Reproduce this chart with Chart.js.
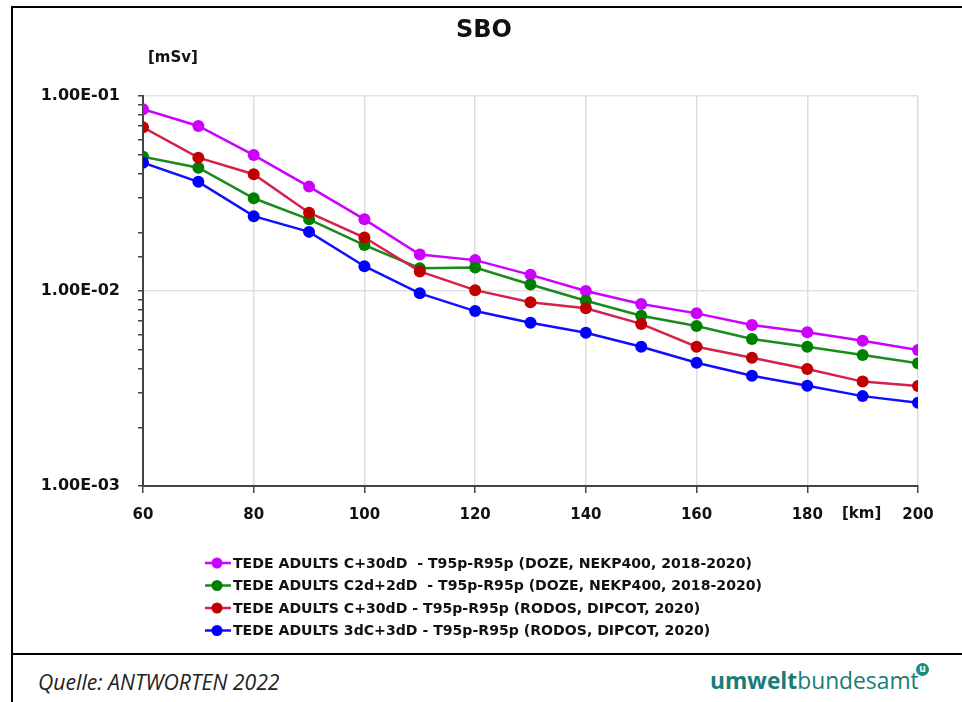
<!DOCTYPE html>
<html>
<head>
<meta charset="utf-8">
<script src="https://cdn.jsdelivr.net/npm/chart.js@4.4.1/dist/chart.umd.min.js"></script>
<style>
  html, body { margin: 0; padding: 0; background: #fff; }
  #page { position: relative; width: 962px; height: 702px; overflow: hidden; }
  #frame { position: absolute; left: 11px; top: 6px; width: 960px; height: 700px; border-top: 2px solid #000; border-left: 2px solid #000; }
  #sep { position: absolute; left: 11px; top: 653px; width: 951px; height: 2px; background: #000; }
  #wrap { position: absolute; left: 0; top: 0; width: 962px; height: 652px; }
  #source { position: absolute; left: 38px; top: 667px; font: italic 21.2px "Open Sans", sans-serif; color: #222; }
  #logo { position: absolute; left: 710px; top: 665px; font: 22.8px "Open Sans", sans-serif; color: #1a7c78; white-space: nowrap; }
  #logo b { font-weight: 700; }
  #logo .dot { position: absolute; left: 206px; top: -2px; width: 13px; height: 13px; border-radius: 50%; background: #1a8a84; color: #fff; font: bold 10px "Open Sans", sans-serif; line-height: 11px; text-align: center; }
</style>
</head>
<body>
<div id="page">
  <div id="frame"></div>
  <div id="wrap"><canvas id="cnv"></canvas></div>
  <div id="sep"></div>
  <div id="source">Quelle: ANTWORTEN 2022</div>
  <div id="logo"><b>umwelt</b>bundesamt<span class="dot">u</span></div>
</div>
<script>
// ---- data (mSv vs distance in km) ----
const distances = [60, 70, 80, 90, 100, 110, 120, 130, 140, 150, 160, 170, 180, 190, 200];
const seriesLabels = [
  'TEDE ADULTS C+30dD  - T95p-R95p (DOZE, NEKP400, 2018-2020)',
  'TEDE ADULTS C2d+2dD  - T95p-R95p (DOZE, NEKP400, 2018-2020)',
  'TEDE ADULTS C+30dD - T95p-R95p (RODOS, DIPCOT, 2020)',
  'TEDE ADULTS 3dC+3dD - T95p-R95p (RODOS, DIPCOT, 2020)'
];
const dozeC30 = [0.0855, 0.0702, 0.0498, 0.0343, 0.0233, 0.0154, 0.0144, 0.0121, 0.0100, 0.00858, 0.00768, 0.00669, 0.00614, 0.00556, 0.00498];
const dozeC2d = [0.0488, 0.0429, 0.0299, 0.0233, 0.0172, 0.0131, 0.0132, 0.0108, 0.00892, 0.00747, 0.00662, 0.00567, 0.00518, 0.00470, 0.00426];
const rodosC30 = [0.0691, 0.0483, 0.0397, 0.0252, 0.0188, 0.0126, 0.0101, 0.00875, 0.00815, 0.00678, 0.00518, 0.00455, 0.00398, 0.00343, 0.00326];
const rodos3dC = [0.0455, 0.0363, 0.0242, 0.0201, 0.0134, 0.00973, 0.00789, 0.00688, 0.00611, 0.00518, 0.00429, 0.00368, 0.00327, 0.00289, 0.00267];
const xTicks = [60, 80, 100, 120, 140, 160, 180, 200];
const yMajor = [0.1, 0.01, 0.001];

const lineColors   = ['#cc00ff', '#1a8a1a', '#d8204c', '#1010ff'];
const markerColors = ['#cc00ff', '#008000', '#c00000', '#0000ff'];
const allSeries = [dozeC30, dozeC2d, rodosC30, rodos3dC];

const FONT = '"DejaVu Sans", Verdana, sans-serif';

const datasets = allSeries.map((vals, i) => ({
  label: seriesLabels[i],
  data: vals.map((v, j) => ({ x: distances[j], y: v })),
  borderColor: lineColors[i],
  backgroundColor: markerColors[i],
  pointBackgroundColor: markerColors[i],
  pointBorderColor: markerColors[i],
  pointRadius: 6,
  pointBorderWidth: 0,
  borderWidth: 2.5,
  tension: 0,
  order: 4 - i          // later series on top, like the original
}));

const isMajor = v => Math.abs(Math.log10(v) - Math.round(Math.log10(v))) < 1e-9;
const sciLabel = v => {
  const e = Math.round(Math.log10(v));
  const s = e < 0 ? '-' : '+';
  return '1.00E' + s + String(Math.abs(e)).padStart(2, '0');
};

// ---- titles, unit labels and legend ----
const decorPlugin = {
  id: 'decor',
  afterDraw(chart) {
    const ctx = chart.ctx;
    ctx.save();
    ctx.fillStyle = '#111';
    ctx.textBaseline = 'middle';
    ctx.textAlign = 'center';
    ctx.font = 'bold 24px ' + FONT;
    ctx.fillText('SBO', 484, 31);
    ctx.font = 'bold 15px ' + FONT;
    ctx.textAlign = 'left';
    ctx.fillText('[mSv]', 148, 58);
    ctx.fillText('[km]', 842, 514);

    // legend
    ctx.font = 'bold 14.1px ' + FONT;
    chart.data.datasets.forEach((ds, i) => {
      const y = 563 + i * 22.5;
      ctx.strokeStyle = ds.borderColor;
      ctx.lineWidth = 2.5;
      ctx.beginPath(); ctx.moveTo(205, y); ctx.lineTo(231, y); ctx.stroke();
      ctx.fillStyle = ds.pointBackgroundColor;
      ctx.beginPath(); ctx.arc(217, y, 5.5, 0, Math.PI * 2); ctx.fill();
      ctx.fillStyle = '#111';
      ctx.fillText(ds.label, 233, y + 1);
    });
    ctx.restore();
  }
};

new Chart('cnv', {
  type: 'line',
  data: { datasets },
  plugins: [decorPlugin],
  options: {
    responsive: true,
    maintainAspectRatio: false,
    animation: false,
    events: [],
    layout: { padding: { left: 0, top: 96, right: 44, bottom: 124 } },
    plugins: { legend: { display: false }, title: { display: false }, tooltip: { enabled: false } },
    scales: {
      x: {
        type: 'linear',
        min: 60, max: 200,
        afterBuildTicks: s => { s.ticks = xTicks.map(v => ({ value: v })); },
        afterFit: s => { s.height = 42; },
        border: { color: '#444', width: 2 },
        grid: {
          color: c => (c.tick && c.tick.value > 60 ? '#dedede' : 'rgba(0,0,0,0)'),
          lineWidth: 1.5,
          tickColor: '#444',
          tickLength: 7,
          tickWidth: 1.5
        },
        ticks: { color: '#111', font: { family: FONT, weight: 'bold', size: 15 }, padding: 13, maxRotation: 0 }
      },
      y: {
        type: 'logarithmic',
        min: 0.001, max: 0.1,
        afterFit: s => { s.width = 143; },
        border: { color: '#444', width: 2 },
        grid: {
          color: c => (c.tick && isMajor(c.tick.value) && c.tick.value > 0.0011 ? '#e2e2e2' : 'rgba(0,0,0,0)'),
          lineWidth: 1.5,
          tickColor: '#444',
          tickLength: 5,
          tickWidth: 1.5
        },
        ticks: {
          color: '#111',
          font: { family: FONT, weight: 'bold', size: 16 },
          padding: 18,
          autoSkip: false,
          callback: v => (isMajor(v) && yMajor.some(m => Math.abs(m - v) / m < 1e-6) ? sciLabel(v) : '')
        }
      }
    }
  }
});
</script>
</body>
</html>
